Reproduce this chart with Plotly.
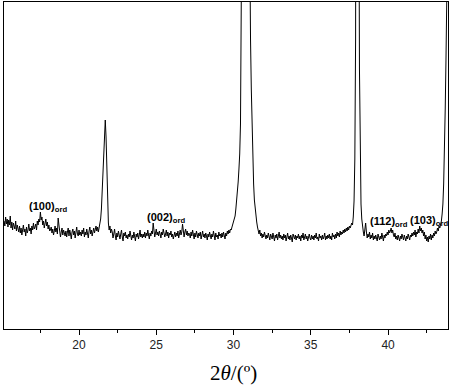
import numpy as np
import plotly.graph_objects as go

# scan: 2theta from 15.15 deg in 0.05 deg steps
two_theta_start = 15.15
two_theta_step = 0.05

intensity_rows = [
    [108,103,112,105,110,102,109,104,113,101,107,99,106,103,100,108,98,104,101,97],   # 15.15-16.10
    [103,96,101,94,99,104,97,100,93,102,96,99,105,98,101,95,103,99,106,100],           # 16.15-17.10
    [102,105,99,108,104,110,107,117,109,112,104,108,101,106,110,103,107,100,104,98],   # 17.15-18.10
    [99,102,96,100,94,98,103,97,101,95,111,104,98,92,97,101,94,99,96,93],              # 18.15-19.10
    [98,92,97,101,93,99,95,90,97,100,94,98,91,96,102,95,93,99,94,97],                  # 19.15-20.10
    [93,99,95,101,92,97,94,100,96,91,98,102,95,99,93,97,101,96,99,103],                # 20.15-21.10
    [98,102,97,101,105,110,120,138,158,182,201,209,192,152,121,106,99,103,96,100],     # 21.15-22.10
    [97,91,95,100,93,89,96,92,98,94,90,95,99,92,88,96,93,97,91,94],                    # 22.15-23.10
    [90,95,92,98,93,89,94,91,97,93,88,95,92,96,90,94,99,92,95,91],                     # 23.15-24.10
    [95,92,97,91,96,93,99,94,90,96,93,98,95,106,97,92,96,100,94,97],                   # 24.15-25.10
    [93,98,95,91,97,94,100,96,92,95,99,93,97,91,96,94,98,92,95,90],                    # 25.15-26.10
    [94,97,92,96,93,98,91,95,99,94,97,105,96,92,97,100,94,98,93,96],                   # 26.15-27.10
    [95,91,97,93,99,94,90,96,92,98,95,91,96,93,97,90,94,98,92,95],                     # 27.15-28.10
    [91,96,93,89,95,92,97,94,90,95,92,98,93,89,96,92,94,90,97,93],                     # 28.15-29.10
    [95,91,96,92,97,94,90,96,93,98,95,99,96,100,99,102,105,108,110,113],               # 29.15-30.10
    [120,127,136,147,160,175,205,260,350,470,650,850,1000,1050,1000,850,650,480,350,290],  # 30.15-31.10
    [240,200,170,145,129,120,113,107,102,98,95,99,93,96,91,95,92,97,93,90],            # 31.15-32.10
    [94,91,96,92,89,95,93,90,96,92,88,94,91,95,89,93,97,91,94,90],                     # 32.15-33.10
    [93,89,95,91,94,88,92,96,90,93,89,94,91,87,95,92,90,94,89,93],                     # 33.15-34.10
    [91,95,90,93,88,94,91,96,89,92,95,90,93,88,92,95,91,89,94,90],                     # 34.15-35.10
    [93,89,94,91,96,90,92,88,95,91,93,89,94,90,92,96,89,93,90,94],                     # 35.15-36.10
    [91,95,90,93,89,96,92,94,90,95,91,97,93,96,92,98,94,97,95,99],                     # 36.15-37.10
    [96,100,97,101,98,102,99,103,101,104,106,104,112,128,170,290,650,1500,1300,520],   # 37.15-38.10
    [260,160,125,110,101,97,93,99,106,97,91,95,92,97,90,94,91,96,89,93],               # 38.15-39.10
    [90,94,91,88,95,92,89,93,90,96,92,88,94,91,95,93,97,94,99,96],                     # 39.15-40.10
    [98,101,96,99,94,92,96,90,93,89,94,91,88,93,90,95,92,89,94,91],                    # 40.15-41.10
    [88,93,90,95,91,89,94,92,96,93,97,94,99,92,97,95,100,96,103,98],                   # 41.15-42.10
    [101,96,99,93,97,90,94,88,92,87,93,90,95,89,94,91,96,93,98,95],                    # 42.15-43.10
    [97,101,98,103,101,104,108,115,125,145,175,220,270,320,380,450],                   # 43.15-43.90
]
intensity = [v for row in intensity_rows for v in row]
two_theta = np.round(two_theta_start + two_theta_step * np.arange(len(intensity)), 2)

peak_labels = ["(100)", "(002)", "(112)", "(103)"]
label_x = [16.65, 24.27, 38.71, 41.30]
label_y = [122, 111, 107, 108]

x_range = [15.145, 43.88]
y_range = [0, 327]
x_ticks = [20, 25, 30, 35, 40]
x_minor_ticks = [17.5, 22.5, 27.5, 32.5, 37.5, 42.5]
x_title = "2<i>θ</i>/(º)"

fig = go.Figure()
fig.add_trace(go.Scatter(x=two_theta, y=intensity, mode="lines",
                         line=dict(color="black", width=1), showlegend=False,
                         hoverinfo="skip"))

for lab, lx, ly in zip(peak_labels, label_x, label_y):
    fig.add_annotation(x=lx, y=ly, xref="x", yref="y", xanchor="left", yanchor="middle",
                       text="<b>" + lab + "<sub>ord</sub></b>", showarrow=False,
                       font=dict(family="Liberation Sans, Arial", size=11, color="black"))

# axis title
fig.add_annotation(x=0.516, y=-0.135, xref="paper", yref="paper", xanchor="center",
                   yanchor="middle", text=x_title, showarrow=False,
                   font=dict(family="Liberation Serif, Times New Roman", size=21, color="black"))

fig.update_layout(
    width=453, height=387, autosize=False,
    margin=dict(l=4, r=5, t=2, b=58),
    paper_bgcolor="white", plot_bgcolor="white",
    xaxis=dict(range=x_range, tickvals=x_ticks, ticks="outside", ticklen=5, tickwidth=1,
               tickcolor="black", showline=True, linecolor="black", linewidth=1, mirror=True,
               showgrid=False, zeroline=False, automargin=False,
               minor=dict(tickvals=x_minor_ticks, ticks="outside",
                          ticklen=3, tickcolor="black", showgrid=False),
               tickfont=dict(family="Liberation Sans, Arial", size=12, color="#222")),
    yaxis=dict(range=y_range, showticklabels=False, ticks="", showline=True, linecolor="black",
               linewidth=1, mirror=True, showgrid=False, zeroline=False, automargin=False),
)

fig.write_html("out.html", config={"responsive": False, "displayModeBar": False},
               post_script="document.body.style.margin='0';document.body.style.overflow='hidden';")
